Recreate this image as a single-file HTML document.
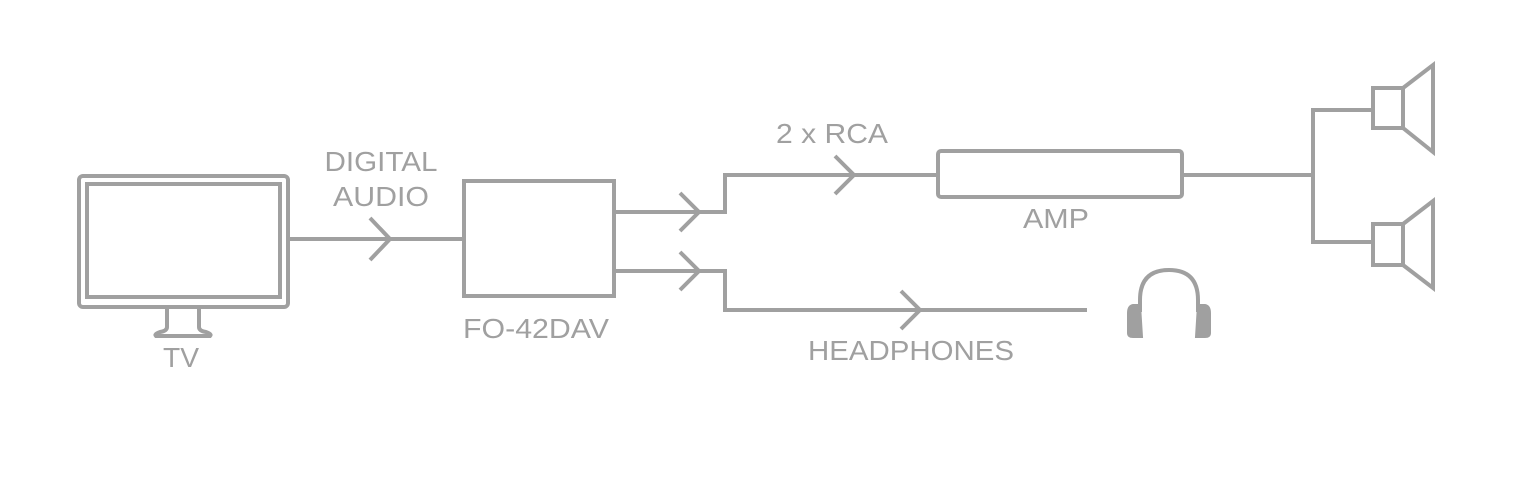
<!DOCTYPE html>
<html><head><style>
html,body{margin:0;padding:0;background:#fff;}
svg{display:block}
text{font-family:"Liberation Sans",sans-serif;font-size:28px;fill:#a0a0a0;text-anchor:middle}
</style></head><body>
<svg width="1529" height="489" viewBox="0 0 1529 489" fill="none" stroke="#a0a0a0" stroke-width="4">
<rect x="79" y="176" width="209" height="131" rx="4"/>
<rect x="87" y="184" width="193" height="113"/>
<path d="M167 307 V327 Q167 331 160 332 Q154 334 156 336 H210 Q212 334 206 332 Q199 331 199 327 V307"/>
<path d="M288 239 H464"/>
<path d="M370 218 L390 239 L370 260"/>
<rect x="464" y="181" width="150" height="115"/>
<path d="M614 212 H725 V175 H938"/>
<path d="M680 193 L699 212 L680 231"/>
<path d="M835 156 L854 175 L835 194"/>
<path d="M614 271 H725 V310 H1087"/>
<path d="M680 252 L699 271 L680 290"/>
<path d="M901 291 L920 310 L901 329"/>
<rect x="938" y="151" width="244" height="46" rx="3"/>
<path d="M1182 175 H1313"/>
<path d="M1373 110 H1313 V242 H1373"/>
<rect x="1373" y="88" width="30" height="40"/>
<path d="M1403 88 L1433 65 V152 L1403 128"/>
<rect x="1373" y="224" width="30" height="41"/>
<path d="M1403 224 L1433 201 V288 L1403 265"/>
<path d="M1140 312 V300 Q1140 270 1169 270 Q1198 270 1198 300 V312"/>
<path d="M1133 305 Q1128 306 1128 313 V333 Q1128 337 1133 337 H1142 L1140 305 Z M1205 305 Q1210 306 1210 313 V333 Q1210 337 1205 337 H1196 L1198 305 Z" fill="#a0a0a0" stroke-width="2"/>
<g stroke="none">
<text x="381" y="171" textLength="113" lengthAdjust="spacingAndGlyphs">DIGITAL</text>
<text x="381" y="206" textLength="96" lengthAdjust="spacingAndGlyphs">AUDIO</text>
<text x="181" y="367" textLength="36" lengthAdjust="spacingAndGlyphs">TV</text>
<text x="536" y="338" textLength="146" lengthAdjust="spacingAndGlyphs">FO-42DAV</text>
<text x="832" y="143" textLength="112" lengthAdjust="spacingAndGlyphs">2 x RCA</text>
<text x="1056" y="228" textLength="66" lengthAdjust="spacingAndGlyphs">AMP</text>
<text x="911" y="360" textLength="206" lengthAdjust="spacingAndGlyphs">HEADPHONES</text>
</g>
</svg>
</body></html>
